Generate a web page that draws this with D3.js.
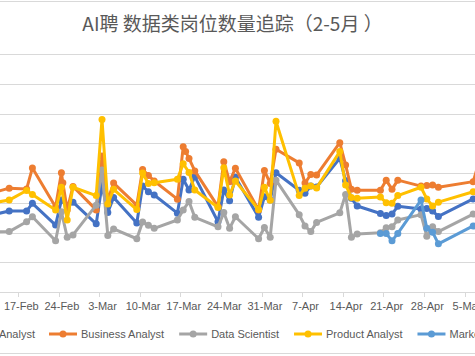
<!DOCTYPE html>
<html><head><meta charset="utf-8">
<script src="https://cdn.jsdelivr.net/npm/d3@7"></script>
<style>html,body{margin:0;padding:0;background:#fff;overflow:hidden}</style>
</head><body>
<svg id="chart" width="475" height="356"></svg>
<script>
const title = "AI聘 数据类岗位数量追踪（2-5月 ）";
const dates = ["2019-02-12","2019-02-15","2019-02-18","2019-02-19","2019-02-23","2019-02-24","2019-02-24T06:00","2019-02-25","2019-02-26","2019-03-02","2019-03-03","2019-03-04","2019-03-05","2019-03-09","2019-03-10","2019-03-11","2019-03-12","2019-03-16","2019-03-17","2019-03-17T10:00","2019-03-18","2019-03-19","2019-03-23","2019-03-24","2019-03-25","2019-03-26","2019-03-30","2019-03-31","2019-04-01","2019-04-02","2019-04-06","2019-04-07","2019-04-08","2019-04-09","2019-04-13","2019-04-14","2019-04-15","2019-04-16","2019-04-20","2019-04-21","2019-04-22","2019-04-23","2019-04-27","2019-04-28","2019-04-29","2019-04-30","2019-05-06","2019-05-07"];
const seriesNames = ["Data Analyst","Business Analyst","Data Scientist","Product Analyst","Marketing Analyst"];
const dataAnalyst = [259,272,272,298,225,309,null,286,302,229,360,267,318,232,356,337,326,265,379,null,343,388,236,343,307,386,251,320,309,401,342,332,356,353,449,374,315,289,264,257,262,288,279,281,272,254,313,319];
const businessAnalyst = [333,349,346,417,286,401,367,276,355,276,457,309,366,292,412,392,373,312,488,472,449,407,287,438,371,416,276,408,365,480,434,366,395,393,502,427,345,342,342,376,345,376,356,358,360,352,371,437];
const dataScientist = [202,203,236,253,172,270,null,184,192,292,410,190,212,179,235,224,214,242,276,null,304,251,219,267,214,253,179,217,184,376,260,222,203,234,266,328,184,195,199,216,219,242,260,187,219,203,262,276];
const productAnalyst = [299,309,341,328,276,352,null,242,352,324,580,296,345,277,400,365,367,379,431,null,402,343,284,418,326,373,277,352,308,574,324,349,356,350,472,360,318,315,319,300,298,324,352,313,289,302,337,343];
const marketingAnalyst = [null,null,null,null,null,null,null,null,null,null,null,null,null,null,null,null,null,null,null,null,null,null,null,null,null,null,null,null,null,null,null,null,null,null,null,null,null,null,197,197,172,197,309,214,201,162,222,229];
const yTicks = [0,100,200,300,400,500,600,700,800];
const xTickStart = "2019-02-10", xTickEnd = "2019-05-12";

const colors = ["#4472C4","#ED7D31","#A5A5A5","#FFC000","#5B9BD5"];
const allValues = [dataAnalyst,businessAnalyst,dataScientist,productAnalyst,marketingAnalyst];

const parse = s => new Date(s.length === 10 ? s + "T00:00:00Z" : s + ":00Z");
const svg = d3.select("#chart");
svg.append("rect").attr("width",475).attr("height",356).attr("fill","#fff");

const x = d3.scaleUtc().domain([parse("2019-02-17"), parse("2019-05-05")]).range([20.8, 20.8 + 77*5.8]);
const y = d3.scaleLinear().domain([0,800]).range([292,54]);
const halfDay = 12*3600*1000;

// border lines
svg.append("line").attr("x1",0).attr("x2",475).attr("y1",1.5).attr("y2",1.5).attr("stroke","#D9D9D9");
svg.append("line").attr("x1",0).attr("x2",475).attr("y1",353.5).attr("y2",353.5).attr("stroke","#D9D9D9");

// title
svg.append("text").attr("x",232.5).attr("y",31).attr("text-anchor","middle")
  .attr("font-family","'Noto Sans CJK SC','Noto Sans',sans-serif").attr("font-size",19)
  .attr("fill","#595959").text(title);

// gridlines
svg.append("g").selectAll("line").data(yTicks.filter(v=>v>0)).join("line")
  .attr("x1",0).attr("x2",475).attr("y1",d=>Math.round(y(d))+0.5).attr("y2",d=>Math.round(y(d))+0.5)
  .attr("stroke","#D9D9D9").attr("stroke-width",1);

// x axis (weekly ticks from 10-Feb)
const weekTicks = d3.utcDay.range(parse(xTickStart), new Date(parse(xTickEnd).getTime()+1), 7);
const xAxis = d3.axisBottom(x).tickValues(weekTicks).tickFormat(d3.utcFormat("%-d-%b")).tickSize(0).tickPadding(10);
const gx = svg.append("g").attr("transform","translate(0,292.5)").call(xAxis);
gx.select(".domain").remove();
gx.selectAll("text").attr("font-family","'Liberation Sans',Arial,sans-serif").attr("font-size",11).attr("fill","#595959");
svg.append("line").attr("x1",0).attr("x2",475).attr("y1",292.5).attr("y2",292.5).attr("stroke","#D9D9D9");
svg.append("g").selectAll("line").data(weekTicks).join("line")
  .attr("x1",d=>Math.round(x(new Date(d.getTime()-halfDay)))+0.5).attr("x2",d=>Math.round(x(new Date(d.getTime()-halfDay)))+0.5)
  .attr("y1",292).attr("y2",297).attr("stroke","#D9D9D9");

// series
const line = d3.line().x(d=>x(d.date)).y(d=>y(d.v));
allValues.forEach((vals,i)=>{
  const pts = dates.map((s,j)=>({date:parse(s), v:vals[j]})).filter(p=>p.v!==null);
  const g = svg.append("g");
  g.append("path").datum(pts).attr("d",line).attr("fill","none").attr("stroke",colors[i])
    .attr("stroke-width",3).attr("stroke-linejoin","round").attr("stroke-linecap","round");
  g.selectAll("circle").data(pts).join("circle").attr("cx",d=>x(d.date)).attr("cy",d=>y(d.v))
    .attr("r",3.5).attr("fill",colors[i]);
});

// legend (flow layout)
const lg = svg.append("g").attr("font-family","'Liberation Sans',Arial,sans-serif").attr("font-size",11);
const ly = 334;
const items = [];
seriesNames.forEach((n,i)=>{
  const t = lg.append("text").attr("y",ly+4).attr("fill","#595959").text(n);
  items.push({t, i, w: t.node().getComputedTextLength()});
});
const lineLen = 28, gap = 4, spacing = 15, start = 49;
let pos = start;
for (let k=1;k<items.length;k++){
  items[k].x = pos; pos = pos + lineLen + gap + items[k].w + spacing;
}
items[0].x = start - spacing - items[0].w - gap - lineLen + 1;
items.forEach(it=>{
  lg.append("line").attr("x1",it.x).attr("x2",it.x+lineLen).attr("y1",ly).attr("y2",ly)
    .attr("stroke",colors[it.i]).attr("stroke-width",3);
  lg.append("circle").attr("cx",it.x+lineLen/2).attr("cy",ly).attr("r",3.5).attr("fill",colors[it.i]);
  it.t.attr("x",it.x+lineLen+gap);
});
</script>
</body></html>
